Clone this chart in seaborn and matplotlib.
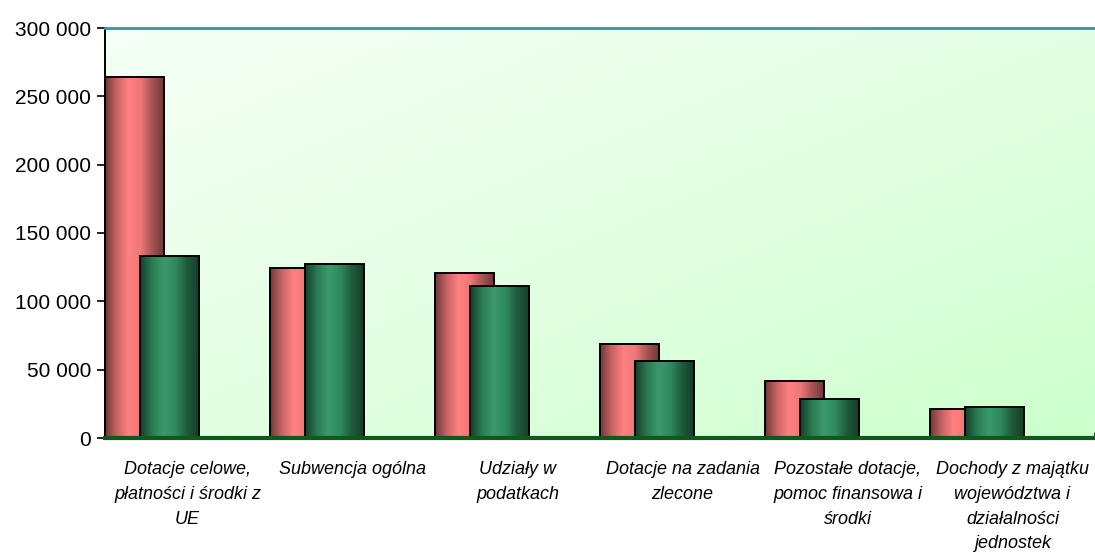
import numpy as np
import pandas as pd
import seaborn as sns
import matplotlib.pyplot as plt
from matplotlib.colors import LinearSegmentedColormap
from matplotlib.ticker import FuncFormatter, MultipleLocator

# dane (tys. zł)
kategorie = [
    "Dotacje celowe,\npłatności i środki z\nUE",
    "Subwencja ogólna",
    "Udziały w\npodatkach",
    "Dotacje na zadania\nzlecone",
    "Pozostałe dotacje,\npomoc finansowa i\nśrodki",
    "Dochody z majątku\nwojewództwa i\ndziałalności\njednostek",
]
seria_1 = [264000, 124500, 120500, 68800, 41700, 21300]
seria_2 = [133200, 127400, 111200, 56300, 28500, 22700]
y_ticks = [0, 50000, 100000, 150000, 200000, 250000, 300000]

sns.set_style("white")
plt.rcParams["font.family"] = ["Liberation Sans", "DejaVu Sans"]

fig = plt.figure(figsize=(10.95, 5.52), dpi=100)
ax = fig.add_axes([105 / 1095, 1 - 438 / 552, 1 - 105 / 1095, (438 - 28) / 552])

df1 = pd.DataFrame({"kat": kategorie, "val": seria_1})
df2 = pd.DataFrame({"kat": kategorie, "val": seria_2})

w = 0.355
sns.barplot(data=df1, x="kat", y="val", width=w, ax=ax, color="#ff8080")
n1 = len(ax.patches)
sns.barplot(data=df2, x="kat", y="val", width=w, ax=ax, color="#3a9a6c")

cm_red = LinearSegmentedColormap.from_list(
    "r", ["#6e3838", "#c86464", "#ff8080", "#f07878", "#a85454", "#6e3838"])
cm_green = LinearSegmentedColormap.from_list(
    "g", ["#163d29", "#2a7a52", "#3a9a6c", "#2f8a5e", "#1f5a3c", "#163d29"])
grad = np.linspace(0, 1, 256).reshape(1, -1)

for i, p in enumerate(ax.patches):
    red = i < n1
    # czerwone słupki od lewej krawędzi grupy, zielone nachodzą na nie
    shift = -0.5 if red else -0.5 + 35 / 165
    k = i if red else i - n1
    p.set_x(k + shift)
    z = 2.0 if red else 2.2
    p.set_facecolor("none")
    p.set_edgecolor("black")
    p.set_linewidth(1.4)
    p.set_zorder(z + 0.1)
    x0, y0 = p.get_x(), p.get_y()
    im = ax.imshow(grad, cmap=cm_red if red else cm_green, aspect="auto",
                   extent=[x0, x0 + p.get_width(), y0, y0 + p.get_height()],
                   zorder=z, interpolation="bicubic")
    im.set_clip_path(p)

# tło z gradientem (jasne w lewym górnym rogu, ciemniejsze w prawym dolnym)
bx, by = np.meshgrid(np.linspace(0, 1, 200), np.linspace(0, 1, 200))
bg = (bx + by) / 2
cm_bg = LinearSegmentedColormap.from_list("bg", ["#f6fff6", "#e4ffe4", "#ccffcc"])
ax.imshow(bg, cmap=cm_bg, extent=[0, 1, 0, 1], transform=ax.transAxes,
          aspect="auto", zorder=0, origin="upper")

ax.set_xlim(-0.5, 5.5)
ax.set_ylim(0, 300000)
ax.set_yticks(y_ticks)
ax.yaxis.set_major_formatter(FuncFormatter(lambda v, _: f"{int(v):,}".replace(",", " ")))
ax.tick_params(axis="y", left=True, length=6, width=1.2, color="black",
               labelsize=15, pad=4, labelcolor="black")
ax.tick_params(axis="x", bottom=False, labelsize=13, pad=13, labelcolor="black")
ax.xaxis.set_minor_locator(MultipleLocator(0.5))
ax.tick_params(axis="x", which="minor", bottom=True, direction="in",
               length=4, width=2, color="#0d4a1a")
for t in ax.get_xticklabels():
    t.set_fontstyle("italic")
    t.set_linespacing(1.6)
    t.set_verticalalignment("top")

ax.set_xlabel("")
ax.set_ylabel("")
ax.spines["top"].set_color("#2e9a9a")
ax.spines["top"].set_linewidth(2)
ax.spines["left"].set_color("black")
ax.spines["left"].set_linewidth(1.4)
ax.spines["bottom"].set_color("#0d5a1a")
ax.spines["bottom"].set_linewidth(3)
ax.spines["right"].set_visible(False)
for s in ax.spines.values():
    s.set_zorder(5)

fig.savefig("out.png", dpi=100)
